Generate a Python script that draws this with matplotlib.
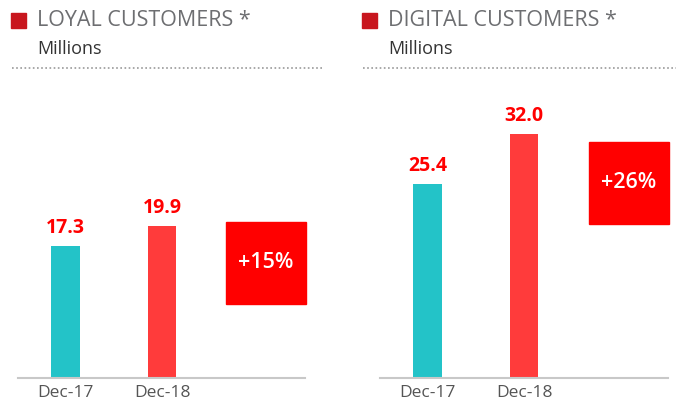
import matplotlib.pyplot as plt
from matplotlib.patches import Rectangle

plt.rcParams['font.family'] = ['Open Sans', 'DejaVu Sans']

periods = ['Dec-17', 'Dec-18']
loyal = [17.3, 19.9]
digital = [25.4, 32.0]
titles = ['LOYAL CUSTOMERS *', 'DIGITAL CUSTOMERS *']
growth = ['+15%', '+26%']

W, H = 680, 405
teal = '#23c3c8'
red_bar = '#ff3b3b'
red_box = '#ff0000'
dark_red = '#c8161e'
gray = '#6d6e71'

fig = plt.figure(figsize=(W / 100, H / 100), dpi=100)


def px(x, y):
    # pixel (top-left origin) -> figure fraction
    return x / W, 1 - y / H


def panel(x0, x1, hx0, hx1, vals, title, pct, box_y):
    # axes from baseline y=378 up to y=80
    ax = fig.add_axes([x0 / W, 1 - 378 / H, (x1 - x0) / W, 298 / H])
    step = 96.5
    left = -47.5 / step
    ax.set_xlim(left, left + (x1 - x0) / step)
    ax.set_ylim(0, 298 / 7.64)
    ax.bar([0, 1], vals, width=0.30, color=[teal, red_bar])
    for i, v in enumerate(vals):
        ax.text(i, v + 1.0, f'{v:.1f}', ha='center', va='bottom',
                color=red_box, fontsize=14, fontweight='bold')
    ax.set_xticks([0, 1])
    ax.set_xticklabels(periods, fontsize=12.5, color='#555555')
    ax.tick_params(axis='x', length=0, pad=5)
    ax.set_yticks([])
    for s in ['top', 'right', 'left']:
        ax.spines[s].set_visible(False)
    ax.spines['bottom'].set_color('#c8c8c8')
    ax.spines['bottom'].set_linewidth(1.5)

    # growth box
    bx0, by0 = px(x1 - 79, box_y + 82)
    fig.patches.append(Rectangle((bx0, by0), 80 / W, 82 / H,
                                 transform=fig.transFigure, color=red_box, zorder=3))
    cx, cy = px(x1 - 39, box_y + 41)
    fig.text(cx, cy, pct, ha='center', va='center', color='white',
             fontsize=15.5, fontweight='semibold', zorder=4)

    # header
    sx, sy = px(hx0, 28)
    fig.patches.append(Rectangle((sx, sy), 15 / W, 15 / H,
                                 transform=fig.transFigure, color=dark_red))
    tx, ty = px(hx0 + 26, 20.5)
    fig.text(tx, ty, title, ha='left', va='center', color=gray, fontsize=15.5)
    mx, my = px(hx0 + 26, 49)
    fig.text(mx, my, 'Millions', ha='left', va='center', color='#333333', fontsize=13)
    lx0, ly = px(hx0 + 1, 68)
    lx1, _ = px(hx1, 68)
    fig.add_artist(plt.Line2D([lx0, lx1], [ly, ly], transform=fig.transFigure,
                              color='#999999', linestyle=(0, (1, 1.5)), linewidth=1.2))


panel(18, 305, 11, 323, loyal, titles[0], growth[0], 222)
panel(380, 668, 362, 676, digital, titles[1], growth[1], 142)

fig.savefig('out.png', dpi=100)
